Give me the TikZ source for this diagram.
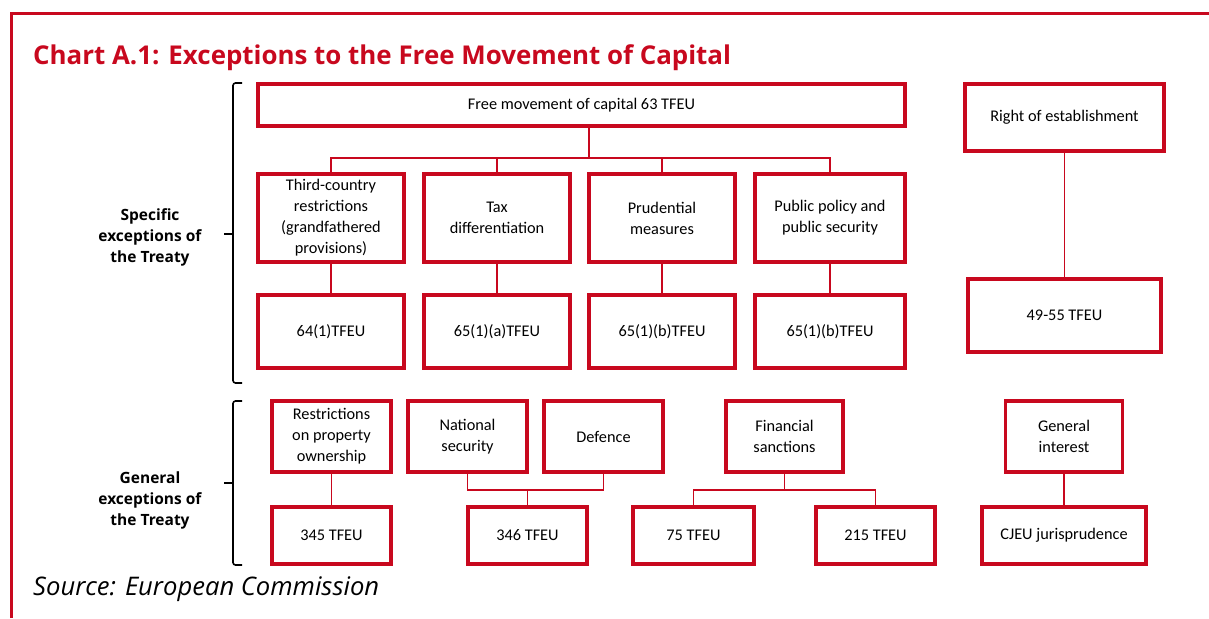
\documentclass[tikz,border=0pt]{standalone}
\usepackage{fontspec}
\setmainfont{Carlito}
\newfontfamily\headfont{Open Sans}
\newfontfamily\notefont{Open Sans}
\definecolor{ecred}{RGB}{200,8,30}
\begin{document}
\begin{tikzpicture}[x=1pt,y=-1pt,
  box/.style={draw=ecred, line width=3.6pt, align=center, inner sep=2pt,
    font=\fontsize{16.3}{21}\selectfont},
  link/.style={draw=ecred, line width=1.8pt},
  bracket/.style={draw=black, line width=1.6pt, rounded corners=2.5pt},
  sidelabel/.style={align=center, font=\headfont\bfseries\fontsize{15.5}{21}\selectfont}]

\useasboundingbox (0,0) rectangle (1209,618);

% frame
\draw[ecred, line width=3pt] (11,618) -- (11,13.5) -- (1209,13.5);

% title and source
\node[anchor=base west, inner sep=0, text=ecred,
  font=\headfont\bfseries\fontsize{25.9}{28}\selectfont] (title) at (33,64)
  {Chart A.1: Exceptions to the Free Movement of Capital};
\node[anchor=base west, inner sep=0,
  font=\notefont\itshape\fontsize{25.6}{28}\selectfont] (source) at (33,595)
  {Source: European Commission};

% side labels and brackets
\node[sidelabel] (spec) at (150,237) {Specific\\exceptions of\\the Treaty};
\node[sidelabel] (gen) at (150,500) {General\\exceptions of\\the Treaty};
\draw[bracket] (242,83) -- (233,83) -- (233,383) -- (242,383);
\draw[black, line width=1.6pt] (233,234) -- (224,234);
\draw[bracket] (242,401) -- (233,401) -- (233,565) -- (242,565);
\draw[black, line width=1.6pt] (233,483) -- (224,483);

% specific exceptions
\node[box, minimum width=647pt, minimum height=42pt] (fmc) at (581.5,105) {Free movement of capital 63 TFEU};
\node[box, minimum width=199pt, minimum height=67pt] (roe) at (1064.5,117.5) {Right of establishment};

\node[box, minimum width=146pt, minimum height=88pt] (tcr) at (331,218) {Third-country\\restrictions\\(grandfathered\\provisions)};
\node[box, minimum width=146pt, minimum height=88pt] (tax) at (497,218) {Tax\\differentiation};
\node[box, minimum width=146pt, minimum height=88pt] (pru) at (662,218) {Prudential\\measures};
\node[box, minimum width=150pt, minimum height=88pt] (pub) at (830,218) {Public policy and\\public security};

\node[box, minimum width=146pt, minimum height=73pt] (a64) at (331,331.5) {64(1)TFEU};
\node[box, minimum width=146pt, minimum height=73pt] (a65a) at (497,331.5) {65(1)(a)TFEU};
\node[box, minimum width=146pt, minimum height=73pt] (a65b) at (662,331.5) {65(1)(b)TFEU};
\node[box, minimum width=150pt, minimum height=73pt] (a65c) at (830,331.5) {65(1)(b)TFEU};
\node[box, minimum width=193pt, minimum height=73pt] (a49) at (1064.5,315.5) {49-55 TFEU};

% general exceptions
\node[box, minimum width=119pt, minimum height=71pt] (prop) at (331.5,436.5) {Restrictions\\on property\\ownership};
\node[box, minimum width=119pt, minimum height=71pt] (nat) at (467.5,436.5) {National\\security};
\node[box, minimum width=119pt, minimum height=71pt] (def) at (603.5,436.5) {Defence};
\node[box, minimum width=117pt, minimum height=71pt] (fin) at (784.5,436.5) {Financial\\sanctions};
\node[box, minimum width=117pt, minimum height=71pt] (gin) at (1064,436.5) {General\\interest};

\node[box, minimum width=119pt, minimum height=57pt] (a345) at (331.5,535.5) {345 TFEU};
\node[box, minimum width=119pt, minimum height=57pt] (a346) at (527.5,535.5) {346 TFEU};
\node[box, minimum width=121pt, minimum height=57pt] (a75) at (693.5,535.5) {75 TFEU};
\node[box, minimum width=119pt, minimum height=57pt] (a215) at (875.5,535.5) {215 TFEU};
\node[box, minimum width=164pt, minimum height=57pt] (cjeu) at (1064,535.5) {CJEU jurisprudence};

% connectors, upper block
\coordinate (bus) at (589,158);
\draw[link] (fmc.south -| bus) -- (bus);
\draw[link] (tcr.north) -- (tcr.north |- bus) -- (pub.north |- bus) -- (pub.north);
\draw[link] (tax.north) -- (tax.north |- bus);
\draw[link] (pru.north) -- (pru.north |- bus);
\draw[link] (tcr.south) -- (a64.north);
\draw[link] (tax.south) -- (a65a.north);
\draw[link] (pru.south) -- (a65b.north);
\draw[link] (pub.south) -- (a65c.north);
\draw[link] (roe.south) -- (a49.north);

% connectors, lower block
\coordinate (lowbus) at (0,490);
\draw[link] (prop.south) -- (a345.north);
\draw[link] (nat.south) -- (nat.south |- lowbus) -- (def.south |- lowbus) -- (def.south);
\draw[link] (a346.north) -- (a346.north |- lowbus);
\draw[link] (fin.south) -- (fin.south |- lowbus);
\draw[link] (a75.north) -- (a75.north |- lowbus) -- (a215.north |- lowbus) -- (a215.north);
\draw[link] (gin.south) -- (cjeu.north);
\end{tikzpicture}
\end{document}
